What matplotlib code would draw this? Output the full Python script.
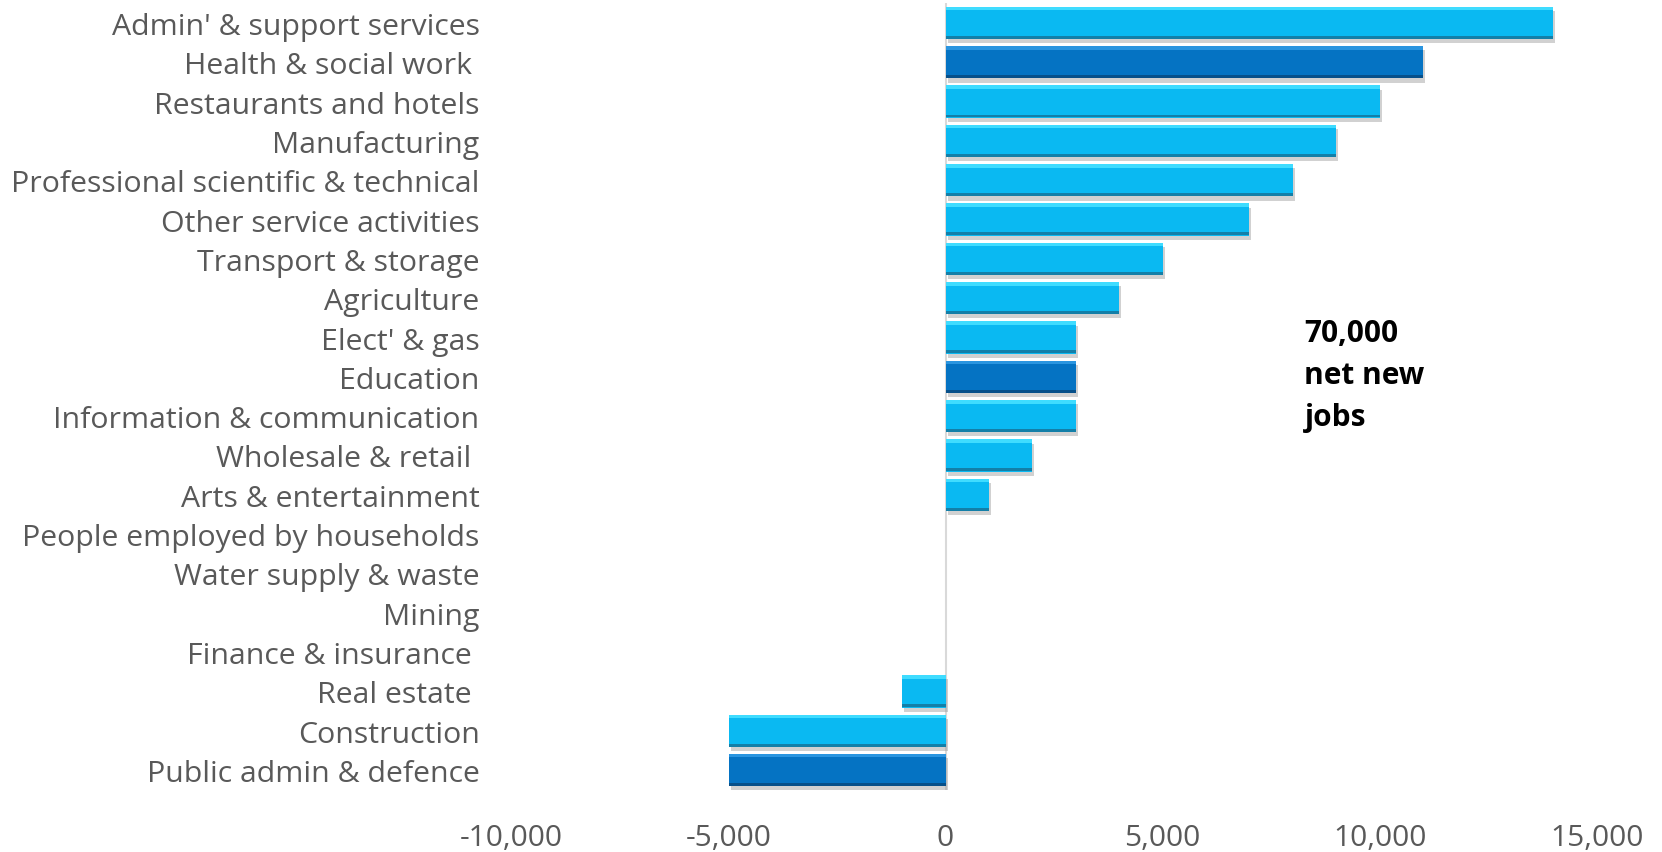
import matplotlib
matplotlib.use("Agg")
import matplotlib.pyplot as plt
import matplotlib.patheffects as pe
from matplotlib.ticker import FuncFormatter
import numpy as np

plt.rcParams['font.family'] = ['Open Sans', 'DejaVu Sans']

# Net change in jobs by sector
sectors = [
    "Admin' & support services",
    "Health & social work ",
    "Restaurants and hotels",
    "Manufacturing",
    "Professional scientific & technical",
    "Other service activities",
    "Transport & storage",
    "Agriculture",
    "Elect' & gas",
    "Education",
    "Information & communication",
    "Wholesale & retail ",
    "Arts & entertainment",
    "People employed by households",
    "Water supply & waste",
    "Mining",
    "Finance & insurance ",
    "Real estate ",
    "Construction",
    "Public admin & defence",
]
jobs = [14000, 11000, 10000, 9000, 8000, 7000, 5000, 4000, 3000, 3000,
        3000, 2000, 1000, 0, 0, 0, 0, -1000, -5000, -5000]
# public sector rows get the darker shade
public_sector = ["Health & social work ", "Education", "Public admin & defence"]

x_ticks = [-10000, -5000, 0, 5000, 10000, 15000]

LIGHT = "#0ab9f2"
DARK = "#0573c3"
LIGHT_TOP = "#3fdcff"
DARK_TOP = "#2a95e0"
LIGHT_BOT = "#137fa8"
DARK_BOT = "#07508a"

fig = plt.figure(figsize=(16.62, 8.53), dpi=100)
ax = fig.add_axes([0.3078, 0.073, 0.6528, 0.922])

ypos = np.arange(len(sectors))
is_dark = [s in public_sector for s in sectors]
base = [DARK if d else LIGHT for d in is_dark]
top = [DARK_TOP if d else LIGHT_TOP for d in is_dark]
bot = [DARK_BOT if d else LIGHT_BOT for d in is_dark]

h = 0.82
t = 0.09
shadow = [pe.SimplePatchShadow(offset=(1.5, -3), shadow_rgbFace="#9a9a9a", alpha=0.45), pe.Normal()]
ax.barh(ypos, jobs, height=h, color=base, path_effects=shadow, zorder=2)
# bevel highlights along the top and bottom edge of each bar
ax.barh(ypos - h / 2 + t / 2, jobs, height=t, color=top, zorder=3)
ax.barh(ypos + h / 2 - t / 2, jobs, height=t * 0.8, color=bot, zorder=3)

ax.axvline(0, color="#d9d9d9", linewidth=1.5, zorder=1)

ax.set_xlim(-10000, 15000)
ax.set_ylim(len(sectors) - 0.5, -0.5)
ax.set_yticks(ypos)
ax.set_yticklabels(sectors)
ax.set_xticks(x_ticks)
ax.xaxis.set_major_formatter(FuncFormatter(lambda v, p: f"{int(v):,}"))
ax.tick_params(axis="y", length=0, labelsize=21.8, labelcolor="#595959", pad=23)
ax.tick_params(axis="x", length=0, labelsize=21.5, labelcolor="#595959", pad=24)
for s in ax.spines.values():
    s.set_visible(False)

ax.text(8270, 8.95, "70,000\nnet new\njobs", fontsize=21.5, fontweight="bold",
        color="black", ha="left", va="center", linespacing=1.53)

fig.savefig("out.png", dpi=100)
